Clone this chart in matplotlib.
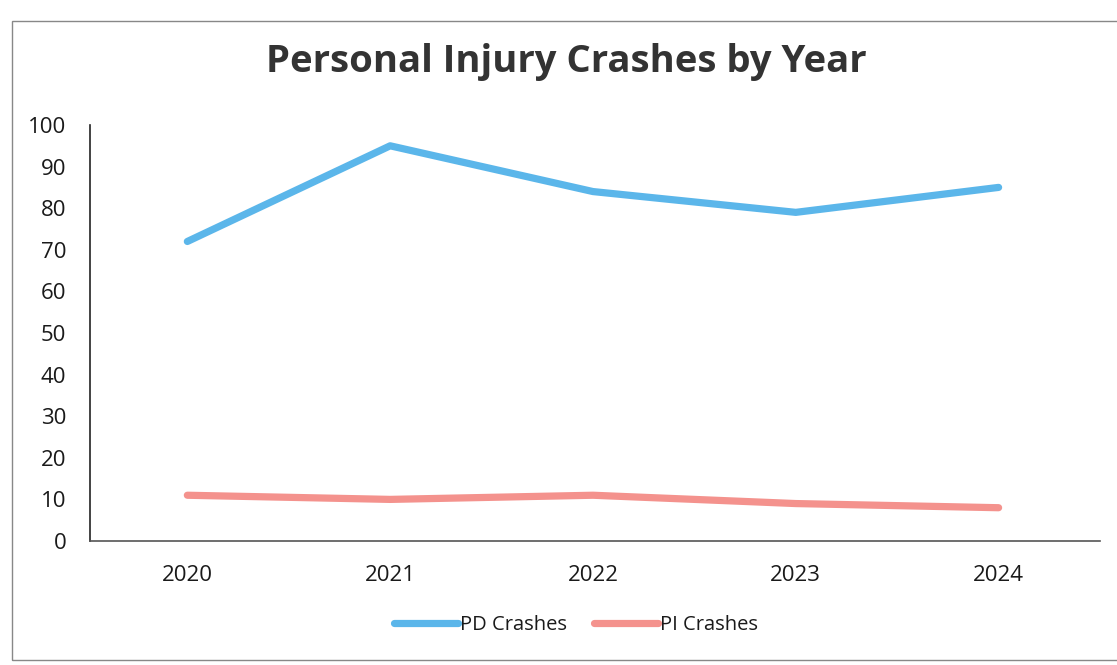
import matplotlib.pyplot as plt
from matplotlib.patches import Rectangle

years = ["2020", "2021", "2022", "2023", "2024"]
pd_crashes = [72, 95, 84, 79, 85]
pi_crashes = [11, 10, 11, 9, 8]
y_ticks = list(range(0, 101, 10))

plt.rcParams['font.family'] = ['Open Sans', 'DejaVu Sans']

W, H = 1117, 665
fig = plt.figure(figsize=(W / 100, H / 100), dpi=100)
ax = fig.add_axes([90 / W, 1 - 541 / H, (1100 - 90) / W, (541 - 125) / H])

x = list(range(len(years)))
ax.plot(x, pd_crashes, color='#5bb6ea', lw=5.2, solid_capstyle='round', label='PD Crashes')
ax.plot(x, pi_crashes, color='#f4928d', lw=5.2, solid_capstyle='round', label='PI Crashes')

ax.set_xlim(-0.48, 4.5)
ax.set_ylim(0, 100)
ax.set_xticks(x)
ax.set_xticklabels(years)
ax.set_yticks(y_ticks)
ax.tick_params(length=0, labelsize=16, colors='#1a1a1a')
ax.tick_params(axis='y', pad=17)
ax.tick_params(axis='x', pad=17)
for s in ['top', 'right']:
    ax.spines[s].set_visible(False)
ax.spines['left'].set_color('#222222')
ax.spines['bottom'].set_color('#555555')
ax.spines['left'].set_linewidth(1.2)
ax.spines['bottom'].set_linewidth(1.2)

fig.text(566 / W, 1 - 62 / H, 'Personal Injury Crashes by Year', ha='center', va='center',
         fontsize=27.5, fontweight='bold', color='#333333')

fig.legend(loc='center', bbox_to_anchor=(576 / W, 1 - 625 / H), ncol=2, frameon=False,
           fontsize=14.5, handlelength=3.2, columnspacing=1.3, handletextpad=0.1,
           labelcolor='#1a1a1a')

fig.patches.append(Rectangle((12 / W, 1 - 660 / H), 1.2, (660 - 21) / H, transform=fig.transFigure,
                             fill=False, edgecolor='#888888', lw=1))

fig.savefig('out.png', dpi=100)
